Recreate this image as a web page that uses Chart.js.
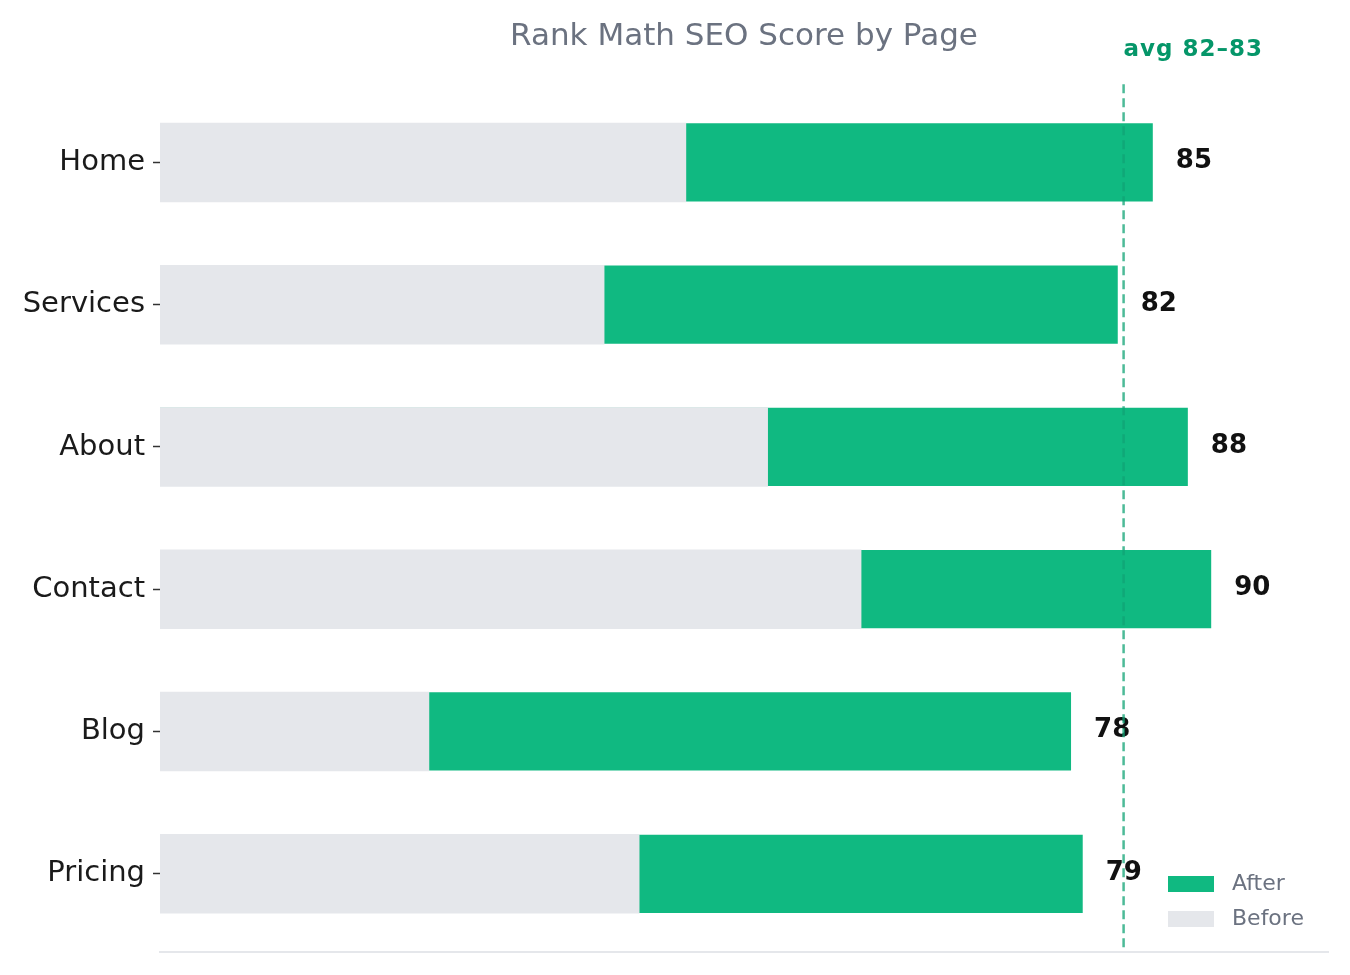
<!DOCTYPE html>
<html>
<head>
<meta charset="utf-8">
<script src="https://cdn.jsdelivr.net/npm/chart.js@4"></script>
<style>
html,body{margin:0;padding:0;background:#fff;}
#wrap{width:1350px;height:975px;position:relative;}
</style>
</head>
<body>
<div id="wrap"><canvas id="c" width="1350" height="975"></canvas></div>
<script>
const categories = ['Home', 'Services', 'About', 'Contact', 'Blog', 'Pricing'];
const beforeScores = [45, 38, 52, 60, 23, 41];
const afterScores = [85, 82, 88, 90, 78, 79];
const avgValue = 82.5;
const avgLabel = 'avg 82–83';
const xMin = 0, xMax = 100;

const GREEN = '#10b981';
const GRAY = '#e5e7eb';

Chart.defaults.font.family = "'DejaVu Sans', sans-serif";

const overlayPlugin = {
  id: 'overlay',
  afterDatasetsDraw(chart) {
    const ctx = chart.ctx;
    const xs = chart.scales.x, ys = chart.scales.y;
    const area = chart.chartArea;
    ctx.save();
    // value labels
    ctx.font = "bold 26px 'DejaVu Sans'";
    ctx.fillStyle = '#111111';
    ctx.textAlign = 'left';
    ctx.textBaseline = 'alphabetic';
    afterScores.forEach((v, i) => {
      const px = xs.getPixelForValue(v);
      const py = ys.getPixelForValue(i);
      ctx.fillText(String(v), px + 23, py + 6);
    });
    // avg dashed line
    const ax = xs.getPixelForValue(avgValue);
    ctx.strokeStyle = 'rgba(16,163,116,0.75)';
    ctx.lineWidth = 2.5;
    ctx.setLineDash([9, 5]);
    ctx.beginPath();
    ctx.moveTo(ax, area.top);
    ctx.lineTo(ax, area.bottom);
    ctx.stroke();
    ctx.setLineDash([]);
    ctx.font = "bold 23px 'DejaVu Sans'";
    try { ctx.letterSpacing = '1px'; } catch (e) {}
    ctx.fillStyle = '#059669';
    ctx.fillText(avgLabel, ax, area.top - 28);
    try { ctx.letterSpacing = '0px'; } catch (e) {}
    // legend
    const items = [...chart.data.datasets].reverse();
    ctx.font = "22px 'DejaVu Sans'";
    ctx.textBaseline = 'middle';
    items.forEach((ds, k) => {
      const by = area.bottom - 76 + k * 35;
      ctx.fillStyle = ds.backgroundColor;
      ctx.fillRect(1168, by, 46, 16);
      ctx.fillStyle = '#6b7280';
      ctx.fillText(ds.label, 1232, by + 8);
    });
    ctx.restore();
  }
};

new Chart(document.getElementById('c'), {
  type: 'bar',
  data: {
    datasets: [
      {
        label: 'Before',
        data: beforeScores.map((v, i) => ({ x: v, y: i })),
        backgroundColor: GRAY,
        grouped: false,
        barPercentage: 0.55,
        categoryPercentage: 1,
        inflateAmount: 0.6
      },
      {
        label: 'After',
        data: afterScores.map((v, i) => ({ x: v, y: i })),
        backgroundColor: GREEN,
        grouped: false,
        barPercentage: 0.55,
        categoryPercentage: 1,
        inflateAmount: 0
      }
    ]
  },
  options: {
    indexAxis: 'y',
    responsive: false,
    animation: false,
    devicePixelRatio: 1,
    layout: { padding: { left: 0, right: 22, top: 0, bottom: 23 } },
    plugins: {
      legend: { display: false },
      tooltip: { enabled: false },
      title: {
        display: true,
        text: 'Rank Math SEO Score by Page',
        fullSize: false,
        align: 'center',
        color: '#6b7280',
        font: { size: 31, weight: 'normal' },
        padding: { top: 18, bottom: 29 }
      }
    },
    scales: {
      x: {
        type: 'linear',
        min: xMin,
        max: xMax,
        ticks: { display: false },
        grid: { display: false },
        border: { display: true, color: '#e5e7eb', width: 2 },
        afterFit(scale) { scale.height = 0; scale.paddingLeft = 0; scale.paddingRight = 0; }
      },
      y: {
        type: 'linear',
        reverse: true,
        offset: false,
        min: -0.55,
        max: categories.length - 0.45,
        afterBuildTicks(scale) {
          scale.ticks = categories.map((c, i) => ({ value: i }));
        },
        ticks: {
          callback: (v) => categories[v],
          color: '#1a1a1a',
          font: { size: 29 },
          padding: 8
        },
        grid: {
          display: true,
          offset: false,
          drawOnChartArea: false,
          drawTicks: true,
          tickLength: 7,
          tickWidth: 1.5,
          color: '#333333'
        },
        border: { display: false },
        afterFit(scale) { scale.width = 160; scale.paddingTop = 0; scale.paddingBottom = 0; }
      }
    }
  },
  plugins: [overlayPlugin]
});
</script>
</body>
</html>
